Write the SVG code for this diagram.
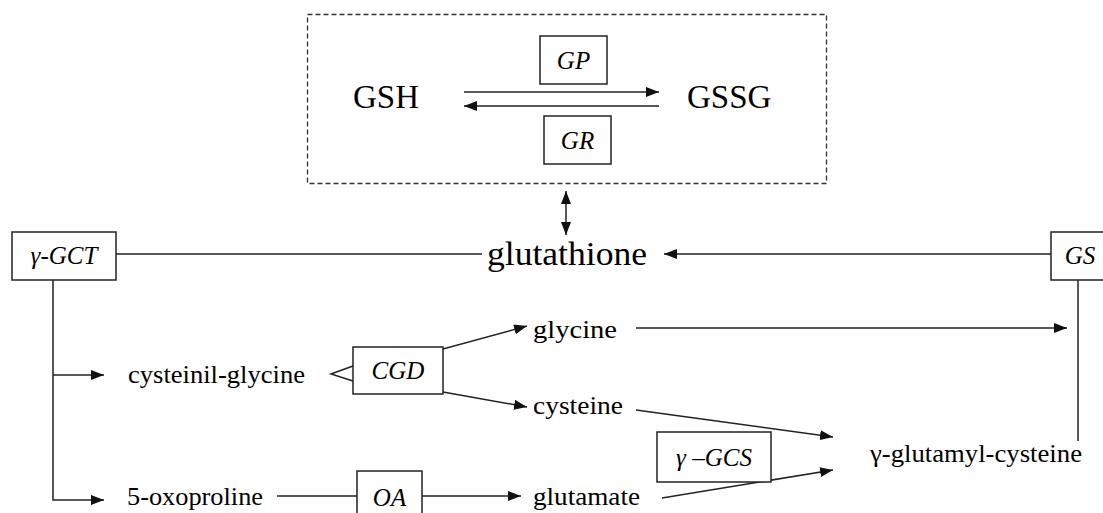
<svg xmlns="http://www.w3.org/2000/svg" width="1103" height="513" viewBox="0 0 1103 513" font-family="Times New Roman, Times, Liberation Serif, Tinos, Noto Serif, DejaVu Serif, serif">
  <style>
    .bg { fill: #ffffff; }
    .frame { fill: none; stroke: #333333; stroke-width: 1.3; stroke-dasharray: 5 3; }
    .box { fill: #ffffff; stroke: #222222; stroke-width: 1.5; }
    .edge { fill: none; stroke: #222222; stroke-width: 1.5; }
    .arr { marker-end: url(#head); }
    text { fill: #000000; }
    .big { font-size: 33px; }
    .mid { font-size: 25px; }
    .enz { font-size: 25px; font-style: italic; text-anchor: middle; }
  </style>
  <defs>
    <marker id="head" viewBox="0 0 13 10" refX="13" refY="5" markerWidth="13" markerHeight="10" markerUnits="userSpaceOnUse" orient="auto-start-reverse">
      <path d="M0,0 L13,5 L0,10 z" fill="#111111"/>
    </marker>
  </defs>

  <rect class="bg" x="0" y="0" width="1103" height="513"/>

  <!-- redox pair container -->
  <g id="redox-cycle">
    <rect class="frame" x="307.5" y="14.5" width="519" height="169"/>
  </g>

  <g id="connectors">
    <!-- GSH / GSSG interconversion -->
    <line class="edge arr" x1="464" y1="92" x2="659" y2="92"/>
    <line class="edge arr" x1="659" y1="106" x2="464" y2="106"/>
    <!-- pool exchange with glutathione -->
    <line class="edge" x1="566" y1="191" x2="566" y2="235" marker-start="url(#head)" marker-end="url(#head)"/>
    <!-- degradation by gamma-GCT -->
    <line class="edge" x1="116" y1="254" x2="482" y2="254"/>
    <path class="edge arr" d="M53,280 V500 H104"/>
    <line class="edge arr" x1="53" y1="375" x2="104" y2="375"/>
    <!-- CGD split of cysteinil-glycine -->
    <polyline class="edge" points="353,366 331,374 353,381"/>
    <line class="edge arr" x1="443" y1="349" x2="527" y2="326"/>
    <line class="edge arr" x1="443" y1="392" x2="527" y2="407"/>
    <!-- 5-oxoproline through OA -->
    <line class="edge" x1="277" y1="496" x2="357" y2="496"/>
    <line class="edge arr" x1="422" y1="496" x2="521" y2="496"/>
    <!-- synthesis -->
    <line class="edge arr" x1="636" y1="410" x2="833" y2="437"/>
    <line class="edge arr" x1="662" y1="498" x2="833" y2="470"/>
    <line class="edge arr" x1="636" y1="328" x2="1067" y2="328"/>
    <line class="edge" x1="1078" y1="280" x2="1078" y2="441"/>
    <line class="edge arr" x1="1051" y1="254" x2="664" y2="254"/>
  </g>

  <g id="GSH"><text class="big" x="353" y="108">GSH</text></g>
  <g id="GSSG"><text class="big" x="687" y="108">GSSG</text></g>
  <g id="GP">
    <rect class="box" x="540" y="36" width="67" height="48"/>
    <text class="enz" x="573.5" y="69">GP</text>
  </g>
  <g id="GR">
    <rect class="box" x="544" y="116" width="67" height="48"/>
    <text class="enz" x="577.5" y="149">GR</text>
  </g>

  <g id="glutathione"><text class="big" x="487" y="265" textLength="160" lengthAdjust="spacingAndGlyphs">glutathione</text></g>
  <g id="gamma-GCT">
    <rect class="box" x="12" y="232" width="104" height="48"/>
    <text class="enz" x="64" y="264">γ-GCT</text>
  </g>
  <g id="GS">
    <rect class="box" x="1051" y="232" width="60" height="48"/>
    <text class="enz" x="1080" y="264">GS</text>
  </g>

  <g id="cysteinil-glycine"><text class="mid" x="128" y="383" textLength="177" lengthAdjust="spacingAndGlyphs">cysteinil-glycine</text></g>
  <g id="CGD">
    <rect class="box" x="353" y="347" width="90" height="47"/>
    <text class="enz" x="398" y="379">CGD</text>
  </g>
  <g id="oxoproline"><text class="mid" x="127" y="505" textLength="136" lengthAdjust="spacingAndGlyphs">5-oxoproline</text></g>
  <g id="OA">
    <rect class="box" x="357" y="471" width="65" height="50"/>
    <text class="enz" x="389.5" y="506">OA</text>
  </g>

  <g id="glycine"><text class="mid" x="533" y="338" textLength="84" lengthAdjust="spacingAndGlyphs">glycine</text></g>
  <g id="cysteine"><text class="mid" x="533" y="414" textLength="90" lengthAdjust="spacingAndGlyphs">cysteine</text></g>
  <g id="glutamate"><text class="mid" x="533" y="505" textLength="107" lengthAdjust="spacingAndGlyphs">glutamate</text></g>
  <g id="gamma-GCS">
    <rect class="box" x="657" y="432" width="114" height="50"/>
    <text class="enz" x="714" y="466">γ –GCS</text>
  </g>
  <g id="gamma-glutamyl-cysteine"><text class="mid" x="870" y="462" textLength="212" lengthAdjust="spacingAndGlyphs">γ-glutamyl-cysteine</text></g>
</svg>
